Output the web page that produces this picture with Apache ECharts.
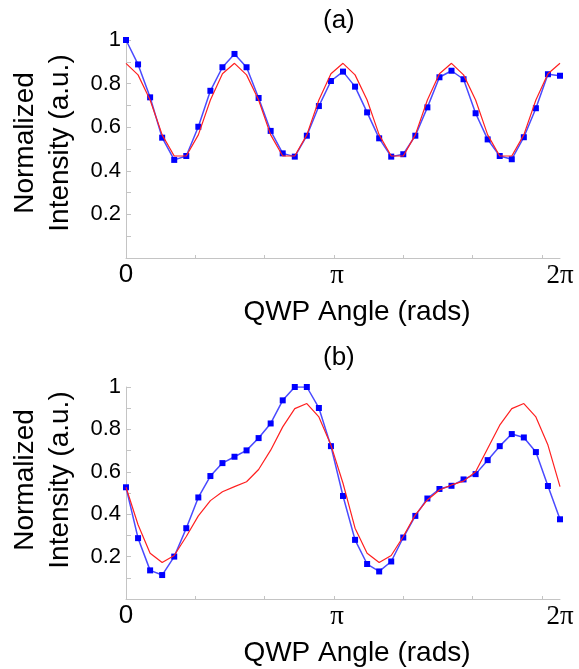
<!DOCTYPE html>
<html><head><meta charset="utf-8">
<script src="https://cdn.jsdelivr.net/npm/echarts@6/dist/echarts.min.js"></script>
<style>html,body{margin:0;padding:0;background:#fff}#c{width:579px;height:669px}</style>
</head><body><div id="c"></div>
<script>
// sample index along QWP angle (step spacing as in the figure)
const sampleIndex = [0,1,2,3,4,5,6,7,8,9,10,11,12,13,14,15,16,17,18,19,20,21,22,23,24,25,26,27,28,29,30,31,32,33,34,35,36];
// panel (a)
const measuredA = [1.0,0.888,0.737,0.552,0.450,0.468,0.602,0.767,0.875,0.936,0.875,0.734,0.583,0.480,0.465,0.561,0.697,0.812,0.855,0.786,0.668,0.549,0.465,0.476,0.561,0.691,0.829,0.859,0.820,0.664,0.544,0.468,0.453,0.554,0.687,0.843,0.836];
const fitA = [0.893,0.840,0.725,0.565,0.468,0.468,0.565,0.725,0.845,0.893,0.840,0.725,0.565,0.468,0.468,0.565,0.725,0.845,0.893,0.840,0.725,0.565,0.468,0.468,0.565,0.725,0.845,0.893,0.840,0.725,0.565,0.468,0.468,0.565,0.725,0.845,0.893];
// panel (b)
const measuredB = [0.527,0.287,0.135,0.113,0.200,0.334,0.479,0.580,0.641,0.671,0.701,0.759,0.828,0.937,1.0,1.0,0.901,0.721,0.486,0.279,0.165,0.130,0.177,0.290,0.392,0.474,0.519,0.534,0.564,0.589,0.655,0.721,0.778,0.762,0.693,0.533,0.376];
const fitB = [0.527,0.350,0.216,0.172,0.205,0.295,0.392,0.464,0.506,0.530,0.553,0.611,0.702,0.812,0.898,0.922,0.859,0.726,0.546,0.334,0.216,0.172,0.205,0.295,0.397,0.467,0.514,0.538,0.556,0.600,0.710,0.820,0.898,0.922,0.859,0.726,0.530];
// axes
const yLabelValues = [0.2,0.4,0.6,0.8,1];
const yTickValues = [0.1,0.2,0.3,0.4,0.5,0.6,0.7,0.8,0.9,1.0];
const xTickValues = [0,5.75,11.5,17.25,23,28.75,34.5];
const xLabelValues = [0,17.5,36];
const xLabelTexts = ['{s|0}','{p|π}','{p|2π}'];
const panelTitles = ['(a)','(b)'];
const xName = 'QWP Angle (rads)';
const yName = 'Normalized\nIntensity (a.u.)';

const pair = arr => sampleIndex.map((x,i)=>[x,arr[i]]);
const axisGrey = '#c4c4c4';

function xAxisFor(gi){
  return {
    type:'value', gridIndex:gi, min:0, max:36,
    axisLine:{show:true,lineStyle:{color:axisGrey,width:1}},
    axisTick:{show:true,inside:true,length:3,customValues:xTickValues,lineStyle:{color:axisGrey}},
    axisLabel:{customValues:xLabelValues,margin:4,
      formatter:v=>xLabelTexts[xLabelValues.indexOf(v)] || '',
      rich:{s:{fontFamily:'Liberation Sans',fontSize:26,color:'#000'},p:{fontFamily:'Liberation Serif',fontSize:27,color:'#000'}}},
    splitLine:{show:false},
    name:xName, nameLocation:'middle', nameGap:40,
    nameTextStyle:{fontFamily:'Liberation Sans',fontSize:28,color:'#000',padding:[0,0,0,28]}
  };
}
function yAxisFor(gi,shift){
  return {
    type:'value', gridIndex:gi, min:0, max:1,
    axisLine:{show:true,lineStyle:{color:axisGrey,width:1}},
    axisTick:{show:true,inside:true,length:5,customValues:yTickValues,lineStyle:{color:axisGrey}},
    axisLabel:{customValues:yLabelValues,margin:5,fontFamily:'Liberation Sans',fontSize:22,color:'#000',
      formatter:v=>String(Math.round(v*10)/10)},
    splitLine:{show:false},
    name:yName, nameLocation:'middle', nameGap:48, nameRotate:90,
    nameTextStyle:{fontFamily:'Liberation Sans',fontSize:28,lineHeight:35,color:'#000',padding:[0,0,0,shift]}
  };
}
function blue(gi,arr){
  return {type:'line',xAxisIndex:gi,yAxisIndex:gi,data:pair(arr),symbol:'rect',symbolSize:6,showSymbol:true,
    lineStyle:{color:'#4a4aff',width:1.5},itemStyle:{color:'#0000ff'},animation:false,z:2};
}
function red(gi,arr){
  return {type:'line',xAxisIndex:gi,yAxisIndex:gi,data:pair(arr),symbol:'none',
    lineStyle:{color:'#ff2020',width:1.2},animation:false,z:3};
}
const chart = echarts.init(document.getElementById('c'),null,{renderer:'canvas'});
chart.setOption({
  backgroundColor:'#fff',
  animation:false,
  title:[
    {text:panelTitles[0],left:318,top:3,textStyle:{fontFamily:'Liberation Sans',fontSize:26,fontWeight:'normal',color:'#000'}},
    {text:panelTitles[1],left:318,top:340,textStyle:{fontFamily:'Liberation Sans',fontSize:26,fontWeight:'normal',color:'#000'}}
  ],
  grid:[
    {left:126,top:40,width:434,height:218},
    {left:126,top:387,width:434,height:212}
  ],
  xAxis:[xAxisFor(0),xAxisFor(1)],
  yAxis:[yAxisFor(0,12),yAxisFor(1,26)],
  series:[blue(0,measuredA),red(0,fitA),blue(1,measuredB),red(1,fitB)]
});
</script></body></html>
